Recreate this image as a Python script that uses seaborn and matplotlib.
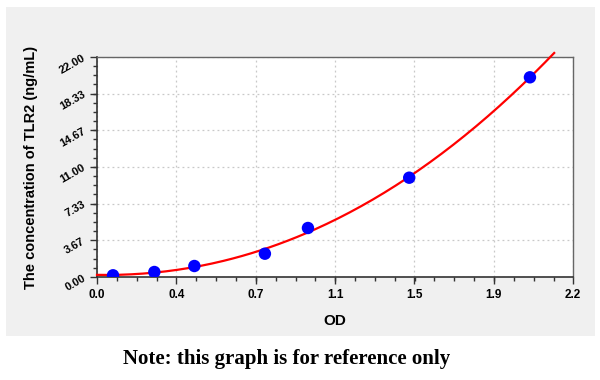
import numpy as np
import pandas as pd
import matplotlib
matplotlib.use('Agg')
import matplotlib.pyplot as plt
import seaborn as sns
from matplotlib.patches import Rectangle
from matplotlib.ticker import FixedLocator, AutoMinorLocator

# standard points
od = [0.074, 0.265, 0.45, 0.776, 0.975, 1.443, 2.001]
conc = [0.17, 0.5, 1.1, 2.33, 4.9, 9.93, 19.97]
x_ticks = [0.0, 0.367, 0.733, 1.1, 1.467, 1.833, 2.2]
x_labels = ['0.0', '0.4', '0.7', '1.1', '1.5', '1.9', '2.2']
y_ticks = [0.0, 3.667, 7.333, 11.0, 14.667, 18.333, 22.0]
y_labels = ['0.00', '3.67', '7.33', '11.00', '14.67', '18.33', '22.00']
curve_end = 2.113

points = pd.DataFrame({'OD': od, 'conc': conc})

# fitted standard curve through the points
coef = np.polyfit(od, conc, 3)
xs = np.linspace(0.0, curve_end, 200)
curve = pd.DataFrame({'OD': xs, 'conc': np.polyval(coef, xs)})

fig = plt.figure(figsize=(6, 3.8), dpi=100, facecolor='white')
fig.patches.append(Rectangle((6 / 600, 1 - 336 / 380), 589 / 600, 329 / 380,
                             transform=fig.transFigure, facecolor='#f0f0f0',
                             edgecolor='none', zorder=-10))
ax = fig.add_axes([97 / 600, 1 - 277 / 380, 476 / 600, 220 / 380])
ax.set_facecolor('white')

sns.lineplot(data=curve, x='OD', y='conc', ax=ax, color='#ff0000', linewidth=1.6,
             clip_on=False, zorder=3)
sns.scatterplot(data=points, x='OD', y='conc', ax=ax, color='#0000ff', s=80,
                marker='o', edgecolor='none', zorder=4)

ax.set_xlim(0, 2.2)
ax.set_ylim(0, 22)
ax.xaxis.set_major_locator(FixedLocator(x_ticks))
ax.yaxis.set_major_locator(FixedLocator(y_ticks))
ax.set_xticklabels(x_labels, fontsize=8.5, fontweight='bold', family='Liberation Sans')
ax.set_yticklabels(y_labels, fontsize=8, fontweight='bold', family='Liberation Sans',
                   rotation=30, ha='right', va='center', rotation_mode='anchor')
ax.xaxis.set_minor_locator(AutoMinorLocator(4))
ax.yaxis.set_minor_locator(AutoMinorLocator(4))
ax.tick_params(which='major', length=5, width=1, color='#333333', pad=4)
ax.tick_params(which='minor', length=3, width=1, color='#333333')
ax.grid(True, which='major', linestyle=(0, (1.5, 2.5)), color='#c8c8c8', linewidth=0.9)
ax.set_axisbelow(True)

for side in ['left', 'bottom']:
    ax.spines[side].set_color('#333333')
    ax.spines[side].set_linewidth(1.2)
for side in ['top', 'right']:
    ax.spines[side].set_color('#666666')
    ax.spines[side].set_linewidth(1.0)

ax.set_xlabel('OD', fontsize=11, fontweight='bold', family='Liberation Sans', labelpad=9)
ax.set_ylabel('The concentration of TLR2 (ng/mL)', fontsize=10.5, fontweight='bold',
              family='Liberation Sans', labelpad=14)

fig.text(0.478, 1 - 359 / 380, 'Note: this graph is for reference only', ha='center',
         va='center', fontsize=15, fontweight='bold', family='Liberation Serif')

fig.savefig('out.png', dpi=100, facecolor='white')
